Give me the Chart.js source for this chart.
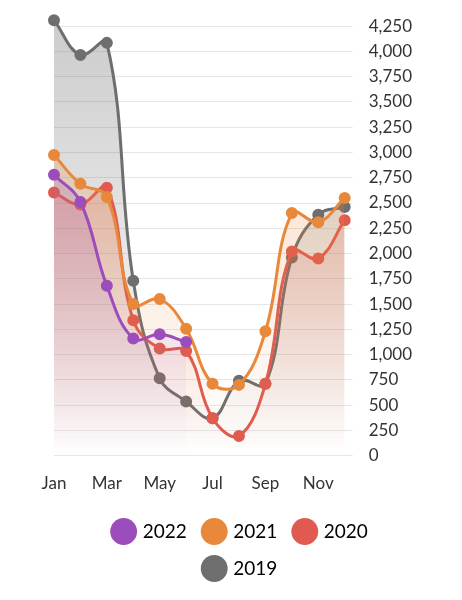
<!DOCTYPE html>
<html>
<head>
<meta charset="utf-8">
<script src="https://cdn.jsdelivr.net/npm/chart.js@4"></script>
<style>
  html, body { margin: 0; padding: 0; background: #fff; }
  #wrap { width: 462px; height: 600px; }
</style>
</head>
<body>
<div id="wrap"><canvas id="canvas"></canvas></div>
<script>
const months = ['Jan', 'Feb', 'Mar', 'Apr', 'May', 'Jun', 'Jul', 'Aug', 'Sep', 'Oct', 'Nov', 'Dec'];
const values2022 = [2780, 2510, 1680, 1160, 1200, 1125, null, null, null, null, null, null];
const values2021 = [2975, 2690, 2560, 1500, 1550, 1255, 710, 700, 1230, 2400, 2310, 2550];
const values2020 = [2605, 2485, 2650, 1340, 1060, 1035, 370, 195, 710, 2020, 1950, 2330];
const values2019 = [4310, 3965, 4085, 1730, 765, 535, 370, 740, 710, 1960, 2385, 2460];

const ctx = document.getElementById('canvas').getContext('2d');

function fade(r, g, b, a) {
  return (context) => {
    const area = context.chart.chartArea;
    if (!area) return `rgba(${r},${g},${b},${a})`;
    const grad = context.chart.ctx.createLinearGradient(0, area.top, 0, area.bottom);
    grad.addColorStop(0, `rgba(${r},${g},${b},${a})`);
    grad.addColorStop(1, `rgba(${r},${g},${b},0)`);
    return grad;
  };
}

function series(label, data, color, rgb) {
  return {
    label: label,
    data: data,
    borderColor: color,
    backgroundColor: fade(rgb[0], rgb[1], rgb[2], 0.35),
    pointBackgroundColor: color,
    pointBorderColor: color,
    pointRadius: 4.5,
    borderWidth: 3,
    tension: 0.4,
    fill: 'origin',
    clip: false,
  };
}

const config = {
  type: 'line',
  data: {
    labels: months,
    datasets: [
      series('2022', values2022, '#9b4dbb', [155, 77, 187]),
      series('2021', values2021, '#e8883a', [232, 136, 58]),
      series('2020', values2020, '#e05a4f', [224, 90, 79]),
      series('2019', values2019, '#6e6e6e', [110, 110, 110]),
    ],
  },
  options: {
    responsive: true,
    maintainAspectRatio: false,
    animation: false,
    layout: { padding: { left: 54, right: 34, top: 4, bottom: 12 } },
    plugins: {
      legend: {
        position: 'bottom',
        labels: {
          usePointStyle: true,
          pointStyle: 'circle',
          boxWidth: 30,
          boxHeight: 30,
          padding: 18,
          color: '#222',
          font: { family: 'Lato', size: 19 },
          generateLabels: (chart) => chart.data.datasets.map((ds, i) => ({
            text: ds.label,
            fillStyle: ds.borderColor,
            strokeStyle: ds.borderColor,
            pointStyle: 'circle',
            lineWidth: 0,
            datasetIndex: i,
          })),
        },
      },
    },
    scales: {
      x: {
        offset: false,
        grid: { display: false },
        border: { display: false },
        ticks: {
          color: '#333',
          font: { family: 'Lato', size: 17 },
          autoSkip: false,
          maxRotation: 0,
          padding: 10,
          callback: (v, i) => (i % 2 === 0 ? months[i] : ''),
        },
      },
      y: {
        position: 'right',
        min: 0,
        max: 4250,
        grid: { color: '#e6e6e6' },
        border: { display: false },
        ticks: {
          stepSize: 250,
          color: '#333',
          font: { family: 'Lato', size: 17 },
          padding: 16,
          callback: (v) => v.toLocaleString('en-US'),
        },
      },
    },
  },
};

new Chart(ctx, config);
</script>
</body>
</html>
